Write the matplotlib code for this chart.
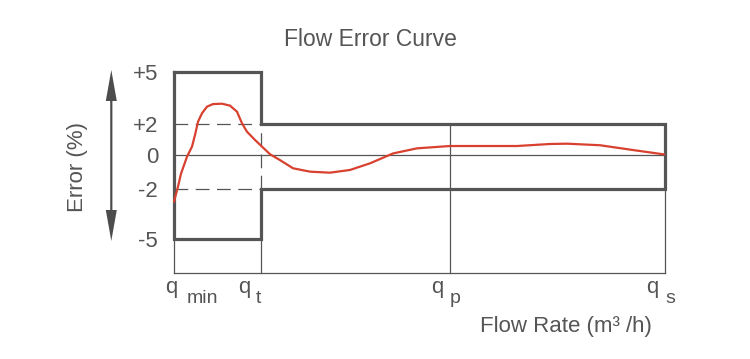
import numpy as np
import matplotlib
matplotlib.use("Agg")
import matplotlib.pyplot as plt
from matplotlib.patches import Polygon
from matplotlib import transforms

plt.rcParams['font.family'] = ['Liberation Sans', 'DejaVu Sans']

# ---- data ----
title = "Flow Error Curve"
xlabel = "Flow Rate (m³ /h)"
ylabel = "Error (%)"
flow_ticks = [0, 87, 276, 491]            # q_min, q_t, q_p, q_s (schematic flow positions)
flow_main = ["q", "q", "q", "q"]
flow_sub = ["min", "t", "p", "s"]
err_ticks = [5, 2, 0, -2, -5]
err_labels = ["+5", "+2", "0", "-2", "-5"]
low_zone_limit = 5      # max permissible error between q_min and q_t
high_zone_limit = 2     # max permissible error between q_t and q_s

curve_x = [0, 4, 7, 13, 18, 21, 24, 28, 33, 39, 48, 56, 63, 68, 73, 81, 88, 96,
           106, 119, 136, 156, 176, 196, 219, 243, 276, 309, 343, 376, 393, 426, 459, 490]
curve_err = [-2.76, -1.86, -1.1, -0.1, 0.54, 1.29, 2.13, 2.62, 3.0, 3.15, 3.17, 3.06,
             2.71, 2.04, 1.5, 0.97, 0.54, 0.05, -0.3, -0.78, -0.98, -1.04, -0.88, -0.49,
             0.1, 0.43, 0.58, 0.58, 0.58, 0.71, 0.73, 0.63, 0.32, 0.04]

# ---- schematic (piecewise linear) error scale ----
knots_err = np.array([-20.0, -5, -2, 0, 2, 5, 20])
knots_pos = np.array([34 - 15 * 50 / 3, 34, 84, 118, 149, 201, 201 + 15 * 52 / 3])

def fwd(v):
    return np.interp(v, knots_err, knots_pos)

def inv(p):
    return np.interp(p, knots_pos, knots_err)

GRAY = "#555555"
RED = "#d8412f"

W, H = 750, 359
fig = plt.figure(figsize=(W / 100, H / 100), dpi=100)
ax = fig.add_axes([174 / W, (H - 273) / H, (665 - 174) / W, (273 - 72) / H])
ax.set_yscale('function', functions=(fwd, inv))
ax.set_xlim(flow_ticks[0], flow_ticks[-1])
ax.set_ylim(inv(0.0), low_zone_limit)

qmin, qt, qp, qs = flow_ticks
thin = dict(color=GRAY, lw=0.9, clip_on=False)
dash = (0, (11, 6))

# vertical guide lines
ax.plot([qmin, qmin], [inv(0.0), -low_zone_limit], **thin)
ax.plot([qt, qt], [inv(0.0), -low_zone_limit], **thin)
ax.plot([qt, qt], [-high_zone_limit, high_zone_limit], linestyle=dash, **thin)
ax.plot([qp, qp], [inv(0.0), high_zone_limit], **thin)
ax.plot([qs, qs], [inv(0.0), -high_zone_limit], **thin)
# horizontal guides
ax.plot([qmin, qs], [0, 0], **thin)
ax.plot([qmin, qt], [high_zone_limit, high_zone_limit], linestyle=dash, **thin)
ax.plot([qmin, qt], [-high_zone_limit, -high_zone_limit], linestyle=dash, **thin)

# permissible error envelope
bx = [qmin, qt, qt, qs, qs, qt, qt, qmin, qmin]
by = [low_zone_limit, low_zone_limit, high_zone_limit, high_zone_limit,
      -high_zone_limit, -high_zone_limit, -low_zone_limit, -low_zone_limit, low_zone_limit]
ax.plot(bx, by, color=GRAY, lw=2.3, clip_on=False, solid_joinstyle='miter', zorder=3)

# error curve
ax.plot(curve_x, curve_err, color=RED, lw=1.6, clip_on=False, zorder=4,
        solid_joinstyle='round', solid_capstyle='round')

for s in ['top', 'right', 'left']:
    ax.spines[s].set_visible(False)
ax.spines['bottom'].set_color(GRAY)
ax.spines['bottom'].set_linewidth(0.9)

ax.set_yticks(err_ticks, err_labels)
ax.tick_params(axis='y', length=0, pad=11.5, labelsize=16, labelcolor=GRAY)
ax.set_xticks([])

# x tick labels (q with subscript)
main_off = [-2.5, -17, -13, -13]
sub_off = [13, -5, 0, 0]
blend = transforms.blended_transform_factory(ax.transData, ax.transAxes)
for xv, m, s, mo, so in zip(flow_ticks, flow_main, flow_sub, main_off, sub_off):
    ax.annotate(m, xy=(xv, 0), xycoords=blend, xytext=(mo * 0.72, -20 * 0.72),
                textcoords='offset points', ha='center', va='baseline',
                fontsize=16, color=GRAY, annotation_clip=False)
    ax.annotate(s, xy=(xv, 0), xycoords=blend, xytext=(so * 0.72, -30 * 0.72),
                textcoords='offset points', ha='left', va='baseline',
                fontsize=14, color=GRAY, annotation_clip=False)

fig.text(370 / W, 1 - 46.5 / H, title, ha='center', va='baseline', fontsize=16.5, color=GRAY)
fig.text(566 / W, 1 - 332 / H, xlabel, ha='center', va='baseline', fontsize=16, color=GRAY)
fig.text(78 / W, 1 - 167 / H, ylabel, ha='center', va='center', rotation=90,
         fontsize=16, color=GRAY)

# double-headed arrow next to the y label
pix = transforms.Affine2D().scale(1 / W, -1 / H).translate(0, 1) + fig.transFigure
cx, hw, sw = 111.3, 5.5, 1.1
arrow = [(cx, 70), (cx + hw, 101), (cx + sw, 101), (cx + sw, 210), (cx + hw, 210),
         (cx, 241), (cx - hw, 210), (cx - sw, 210), (cx - sw, 101), (cx - hw, 101)]
fig.add_artist(Polygon(arrow, closed=True, transform=pix, facecolor="#4d4d4d",
                       edgecolor="none"))

fig.savefig("out.png", dpi=100)
